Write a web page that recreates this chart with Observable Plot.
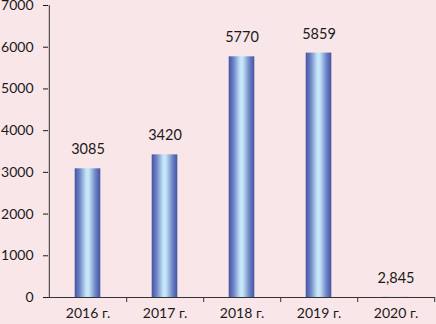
<!DOCTYPE html>
<html>
<head>
<meta charset="utf-8">
<script src="https://cdn.jsdelivr.net/npm/d3@7"></script>
<script src="https://cdn.jsdelivr.net/npm/@observablehq/plot@0.6"></script>
<style>
  html, body { margin: 0; padding: 0; background: #f9e6e8; }
</style>
</head>
<body>
<div id="chart"></div>
<script>
const years = ["2016 г.", "2017 г.", "2018 г.", "2019 г.", "2020 г."];
const values = [3085, 3420, 5770, 5859, 2.845];
const valueLabels = ["3085", "3420", "5770", "5859", "2,845"];
const yTicks = [0, 1000, 2000, 3000, 4000, 5000, 6000, 7000];

const data = years.map((year, i) => ({year, value: values[i], label: valueLabels[i]}));

const W = 436, H = 324, ML = 48, MR = 1, MT = 5, MB = 27;
const bw = (W - ML - MR) / years.length;

const chart = Plot.plot({
  width: W, height: H,
  marginLeft: ML, marginRight: MR, marginTop: MT, marginBottom: MB,
  style: {background: "#f9e6e8", fontFamily: "Lato, sans-serif", fontSize: "14px", color: "#1a1a1a"},
  x: {domain: years, padding: 0, label: null},
  y: {domain: [0, 7000], label: null},
  marks: [
    Plot.barY(data, {x: "year", y: "value", fill: "url(#barGrad)", insetLeft: 25.7, insetRight: 25.7}),
    Plot.text(data, {x: "year", y: "value", text: "label", dy: -19, fill: "#1a1a1a", fontSize: 14.5}),
    Plot.ruleY([0], {stroke: "#333"}),
    Plot.ruleX([years[0]], {dx: -bw / 2, y1: 0, y2: 7000, stroke: "#333"}),
    Plot.ruleX(years, {dx: bw / 2, y1: 0, y2: 0, insetBottom: -5, stroke: "#333"}),
    Plot.axisY({ticks: yTicks, tickSize: 5, tickPadding: 10, tickFormat: d => String(d), label: null}),
    Plot.axisX({tickSize: 0, tickPadding: 11, label: null})
  ]
});

const svg = d3.select(chart);
const defs = svg.insert("defs", ":first-child");
const grad = defs.append("linearGradient").attr("id", "barGrad")
  .attr("x1", "0%").attr("x2", "100%").attr("y1", "0%").attr("y2", "0%");
[["0%", "#4454a2"], ["18%", "#6a80c4"], ["45%", "#c4e6f8"], ["55%", "#c4e6f8"], ["82%", "#6a80c4"], ["100%", "#4454a2"]]
  .forEach(([o, c]) => grad.append("stop").attr("offset", o).attr("stop-color", c));

document.getElementById("chart").appendChild(chart);
</script>
</body>
</html>
